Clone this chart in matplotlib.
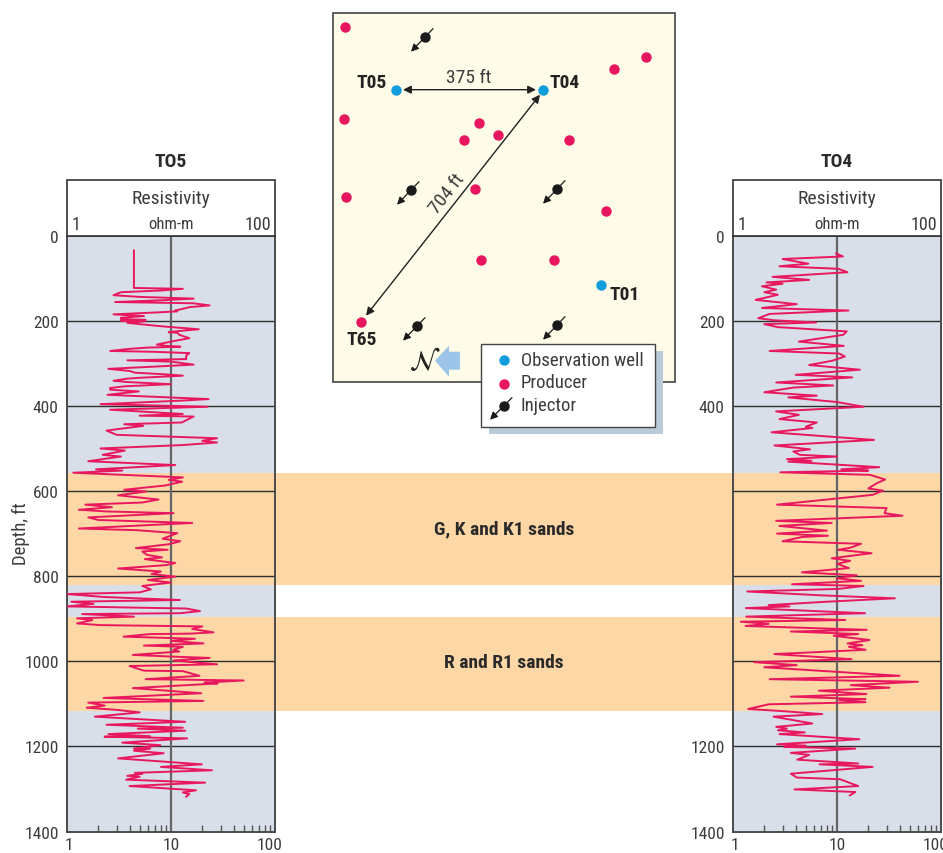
import logging
import matplotlib
matplotlib.use('Agg')
import matplotlib.pyplot as plt
from matplotlib.patches import Rectangle, Polygon

logging.getLogger('matplotlib.font_manager').setLevel(logging.ERROR)
plt.rcParams['font.family'] = ['Roboto Condensed', 'Archivo Narrow', 'Roboto', 'DejaVu Sans']

W, H = 943, 854

# Registros de resistividad (profundidad ft, ohm-m)
to5_log = [
    (35, 4.4), (123, 4.4), (125, 13), (129, 8), (133, 3.3), (140, 2.8), (144, 5), (148, 16.5), (152, 8),
    (156, 2.9), (159, 16.5), (164, 23.5), (168, 15), (172, 13), (176, 11), (178, 11.5), (180, 8), (185, 2.8),
    (189, 5.5), (193, 3.3), (196, 3.3), (198, 5.7), (200, 3.3), (201, 5.7), (205, 3.8), (209, 5.5), (214, 9),
    (220, 18.5), (224, 12), (227, 9.5), (228, 11.5), (233, 12), (241, 15), (247, 11), (256, 7.3), (259, 9),
    (261, 12.3), (263, 6), (266, 4), (271, 2.6), (273, 7), (276, 15), (282, 14), (290, 14), (293, 3.8),
    (296, 10), (303, 16.5), (307, 8), (313, 2.5), (318, 4), (322, 4.5), (326, 9), (329, 13), (334, 5),
    (336, 3.8), (341, 2.8), (344, 3.8), (349, 10), (354, 3.6), (358, 2.6), (362, 2.6), (366, 4.9), (374, 2.45),
    (384, 23), (387, 14.3), (396, 2.1), (402, 22.5), (409, 2.6), (419, 13), (423, 5), (425, 16.5), (439, 12.7),
    (443, 3.55), (447, 5.4), (458, 2.4), (468, 3), (476, 27.7), (482, 20), (486, 27.7), (492, 13), (500, 2.1),
    (505, 3.6), (515, 2.2), (519, 3.3), (530, 1.6), (539, 11), (549, 1.9), (552, 3.4), (557, 1.15), (568, 13),
    (574, 9.5), (578, 12.8), (587, 8.8), (597, 3.55), (601, 5.8), (610, 3.1), (620, 7.6), (627, 5.3), (632, 1.5),
    (638, 2.7), (644, 1.3), (648, 2.4), (652, 10.6), (662, 1.6), (668, 2), (675, 16), (688, 1.3), (692, 4.7),
    (699, 11.5), (712, 8.3), (718, 12.3), (725, 9.5), (734, 4.6), (738, 9.3), (742, 5.3), (750, 5.9), (756, 8.2),
    (760, 5.6), (769, 11), (774, 9), (782, 3.1), (789, 8), (795, 6.5), (801, 11), (809, 6), (815, 10),
    (823, 5.3), (831, 6.4), (838, 5), (842, 1), (849, 2.3), (856, 12.2), (860, 1.1), (865, 1.8), (871, 1),
    (876, 14), (882, 19), (887, 12.3), (889, 1.4), (895, 4.4), (899, 1.25), (903, 1.75), (911, 1.25), (915, 2.1),
    (918, 20), (924, 16), (932, 25.6), (935, 15), (936, 6.3), (942, 3.5), (947, 17), (952, 10), (958, 20.5),
    (963, 5.5), (966, 13), (973, 10.5), (977, 12), (985, 4.3), (989, 10.5), (992, 23.5), (998, 10.6), (1007, 27.7),
    (1011, 4), (1022, 5.5), (1023, 13), (1034, 18.8), (1042, 5.7), (1045, 50), (1050, 21), (1052, 28), (1063, 4.3),
    (1075, 19.5), (1086, 2.25), (1093, 20.5), (1097, 1.6), (1104, 2.3), (1109, 1.55), (1114, 3), (1120, 5),
    (1130, 1.85), (1142, 13.7), (1149, 2.4), (1156, 13), (1158, 4.8), (1163, 13.7), (1171, 2.5), (1176, 6.3),
    (1177, 2.3), (1181, 14.3), (1191, 3.4), (1197, 7.9), (1205, 4.4), (1205, 6.3), (1210, 4.4), (1216, 8.5),
    (1228, 3.1), (1242, 19.8), (1248, 8), (1256, 24.8), (1262, 4.5), (1264, 5.3), (1269, 3.8), (1271, 5),
    (1278, 3.7), (1285, 21.3), (1293, 4), (1303, 17.4), (1308, 13), (1312, 15), (1318, 14),
]

to4_log = [
    (42, 9.8), (49, 11.4), (55, 3), (66, 5.3), (72, 2.8), (78, 10.3), (86, 12.6), (97, 2.4), (104, 5.4),
    (110, 2.1), (113, 3), (119, 1.9), (127, 2.6), (133, 2), (139, 2.7), (151, 1.65), (161, 4.1), (170, 1.9),
    (176, 12.9), (184, 2.25), (194, 1.75), (199, 2.5), (204, 6.3), (208, 2), (215, 2.7), (225, 12.4), (233, 11.5),
    (249, 4.3), (259, 11.6), (271, 2.25), (277, 10.5), (284, 11.9), (294, 9), (304, 5.4), (315, 16.6), (327, 4),
    (333, 14), (345, 2.6), (352, 9.2), (357, 3.8), (368, 2), (376, 6.4), (380, 3.4), (391, 10), (402, 18),
    (413, 2.6), (421, 4.3), (431, 2.8), (439, 6.4), (449, 5), (452, 5.8), (462, 2.35), (480, 22.7), (493, 2.5),
    (502, 5.5), (507, 3.8), (515, 4.4), (519, 10), (525, 3.3), (529, 5.7), (531, 3.4), (544, 25.5), (549, 11),
    (552, 20), (556, 2.85), (562, 20.8), (573, 29), (582, 24), (594, 20), (599, 27.7), (609, 22), (632, 2.65),
    (640, 30), (652, 28.6), (658, 42.6), (670, 2.6), (675, 8.9), (682, 2.8), (693, 8), (700, 2.65), (705, 8.2),
    (708, 4.6), (718, 3), (724, 17), (733, 13.5), (738, 10.3), (746, 21.5), (758, 8.9), (764, 13.4), (771, 10),
    (781, 13), (791, 4.6), (798, 15.5), (805, 10), (811, 17), (819, 3.7), (823, 18), (830, 10.3), (836, 1.37),
    (845, 7), (852, 36), (860, 8), (868, 2.2), (871, 3.5), (875, 1.33), (887, 18.6), (895, 1.34), (903, 12),
    (907, 1.19), (912, 2.2), (917, 1.32), (926, 19.3), (930, 3.6), (936, 16), (940, 9.3), (950, 20.5), (958, 12.6),
    (962, 17.5), (966, 13), (973, 18.8), (983, 2.5), (995, 13.8), (1002, 1.6), (1009, 4.1), (1014, 2), (1034, 40),
    (1042, 2.25), (1048, 60), (1056, 13.6), (1062, 32), (1069, 6.7), (1077, 19.2), (1083, 3.6), (1089, 18.8),
    (1091, 10.5), (1096, 18.8), (1101, 2.2), (1112, 1.4), (1117, 3), (1124, 7.2), (1130, 2.45), (1146, 5.8),
    (1154, 2.6), (1158, 3.3), (1162, 2.7), (1167, 4.9), (1171, 2.8), (1183, 16.4), (1195, 2.65), (1198, 5),
    (1201, 3.1), (1205, 15), (1215, 3.6), (1220, 5.4), (1231, 4.15), (1240, 16), (1242, 6.8), (1248, 22), (1257, 8),
    (1264, 3.6), (1273, 4.1), (1277, 10.7), (1293, 16), (1301, 3.9), (1307, 15), (1315, 13.3),
]

sand_bands = [(558, 820), (895, 1116)]
sand_names = ['G, K and K1 sands', 'R and R1 sands']
depth_ticks = [0, 200, 400, 600, 800, 1000, 1200, 1400]

# Mapa de pozos, en pixeles de la figura
producers = [(345, 27), (646, 57), (614, 69), (344, 119), (479, 123), (464, 140), (498, 135), (569, 140),
             (346, 197), (475, 189), (606, 211), (481, 260), (554, 260), (361, 322)]
observation = [(396, 90), (543, 90), (601, 285)]
injectors = [(425, 37), (411, 190), (557, 189), (417, 326), (557, 325)]

BLUE_BG = '#d9dfe9'
ORANGE = '#fdd7a5'
LOG_RED = '#e8185f'
TXT = '#3c3c3c'
DOT_RED = '#e6175f'
DOT_BLUE = '#0f9ddd'

fig = plt.figure(figsize=(W / 100, H / 100), dpi=100)

# lienzo en pixeles para bandas, mapa y leyenda
canvas = fig.add_axes([0, 0, 1, 1], zorder=3)
canvas.set_xlim(0, W)
canvas.set_ylim(H - 0.7, -0.7)
canvas.axis('off')


def depth_to_px(d):
    return 236 + d * 596 / 1400


for top, bot in sand_bands:
    y0, y1 = depth_to_px(top), depth_to_px(bot)
    canvas.add_patch(Rectangle((276, y0), 456, y1 - y0, fc=ORANGE, ec='none', zorder=1))
canvas.text(504, 529, sand_names[0], ha='center', va='center', fontsize=14, fontweight='bold', color='#2a2a2a')
canvas.text(504, 662, sand_names[1], ha='center', va='center', fontsize=14, fontweight='bold', color='#2a2a2a')
canvas.text(21, 533, 'Depth, ft', ha='center', va='center', rotation=90, fontsize=13.5, color=TXT)


def log_panel(left, name, log):
    ax = fig.add_axes([left / W, 1 - 832.6 / H, 208 / W, 596 / H], zorder=2)
    ax.set_facecolor(BLUE_BG)
    for top, bot in sand_bands:
        ax.axhspan(top, bot, color=ORANGE, lw=0, zorder=0)
    ax.set_xscale('log')
    ax.set_xlim(1, 100)
    ax.set_ylim(1400, 0)
    for d in depth_ticks[1:-1]:
        ax.axhline(d, color='#2f2f2f', lw=1.0, zorder=1)
    ax.axvline(10, color='#666666', lw=1.6, zorder=1)
    depth, res = zip(*log)
    ax.plot(res, depth, color=LOG_RED, lw=1.4, zorder=3, solid_joinstyle='round')
    ax.set_yticks(depth_ticks)
    ax.tick_params(axis='y', length=0, labelsize=12.5, labelcolor=TXT, pad=6)
    ax.set_xticks([1, 10, 100])
    ax.set_xticklabels([])
    ax.tick_params(axis='x', which='major', direction='in', length=0)
    ax.tick_params(axis='x', which='minor', direction='in', length=5, width=1, color='#555555', labelbottom=False)
    for s in ax.spines.values():
        s.set_color('#4a4a4a')
        s.set_linewidth(1.4)
    # etiquetas del eje x, corridas para que quepan
    for label, dx in [('1', 2), ('10', 104), ('100', 203)]:
        canvas.text(left + dx, 845, label, ha='center', va='center', fontsize=12.5, color=TXT)
    # cabecera
    canvas.add_patch(Rectangle((left, 180), 208, 56, fc='white', ec='#333333', lw=1.2, zorder=2))
    canvas.text(left + 104, 161, name, ha='center', va='center', fontsize=14, fontweight='bold', color='#2a2a2a')
    canvas.text(left + 104, 198, 'Resistivity', ha='center', va='center', fontsize=14, color=TXT)
    canvas.text(left + 104, 224, 'ohm-m', ha='center', va='center', fontsize=12, color=TXT)
    canvas.text(left + 9, 224, '1', ha='center', va='center', fontsize=13, color=TXT)
    canvas.text(left + 191, 224, '100', ha='center', va='center', fontsize=13, color=TXT)
    return ax


log_panel(67, 'TO5', to5_log)
log_panel(733, 'TO4', to4_log)

# mapa
canvas.add_patch(Rectangle((333, 13), 342, 369, fc='#fffbe9', ec='#444444', lw=1.2, zorder=2))


def draw_injector(x, y):
    canvas.annotate('', xy=(x - 14, y + 15), xytext=(x + 8, y - 8), zorder=5,
                    arrowprops=dict(arrowstyle='-|>', color='#1a1a1a', lw=0.9, shrinkA=0, shrinkB=0, mutation_scale=11))
    canvas.plot([x], [y], 'o', color='#1a1a1a', ms=6.5, zorder=6)


for x, y in producers:
    canvas.plot([x], [y], 'o', color=DOT_RED, ms=6.5, zorder=5)
for x, y in observation:
    canvas.plot([x], [y], 'o', color=DOT_BLUE, ms=6.5, zorder=5)
for x, y in injectors:
    draw_injector(x, y)

for start, end in [((403, 90), (536, 90)), ((540, 95), (366, 316))]:
    canvas.annotate('', xy=end, xytext=start, zorder=4,
                    arrowprops=dict(arrowstyle='<|-|>', color='#222222', lw=1.0, shrinkA=0, shrinkB=0, mutation_scale=12))

canvas.text(469, 77, '375 ft', ha='center', va='center', fontsize=14, color=TXT)
canvas.text(447, 193, '704 ft', ha='center', va='center', fontsize=14, color=TXT, rotation=52, rotation_mode='anchor')
for label, x, y in [('T05', 372, 82), ('T04', 565, 82), ('T01', 625, 294), ('T65', 362, 339)]:
    canvas.text(x, y, label, ha='center', va='center', fontsize=14, fontweight='bold', color='#222222', zorder=6)

# flecha norte
canvas.add_patch(Polygon([(460, 352), (449, 352), (449, 346), (435, 361), (449, 377), (449, 370), (460, 370)],
                         fc='#9cc3e8', ec='none', zorder=5))
canvas.text(425, 362, r'$\mathcal{N}$', ha='center', va='center', fontsize=20, color='#222222', zorder=5)

# leyenda
canvas.add_patch(Rectangle((489, 351), 174, 83, fc='#b9cad8', ec='none', zorder=6))
canvas.add_patch(Rectangle((481, 344), 174, 83, fc='white', ec='#444444', lw=1.0, zorder=7))
canvas.plot([504], [360], 'o', color=DOT_BLUE, ms=6.5, zorder=8)
canvas.plot([504], [384], 'o', color=DOT_RED, ms=6.5, zorder=8)
canvas.annotate('', xy=(490, 420), xytext=(512, 398), zorder=8,
                arrowprops=dict(arrowstyle='-|>', color='#1a1a1a', lw=0.9, shrinkA=0, shrinkB=0, mutation_scale=11))
canvas.plot([504], [406], 'o', color='#1a1a1a', ms=6.5, zorder=9)
for label, y in [('Observation well', 360), ('Producer', 382), ('Injector', 405)]:
    canvas.text(521, y, label, ha='left', va='center', fontsize=13.5, color=TXT, zorder=8)

fig.savefig('out.png', dpi=100)
